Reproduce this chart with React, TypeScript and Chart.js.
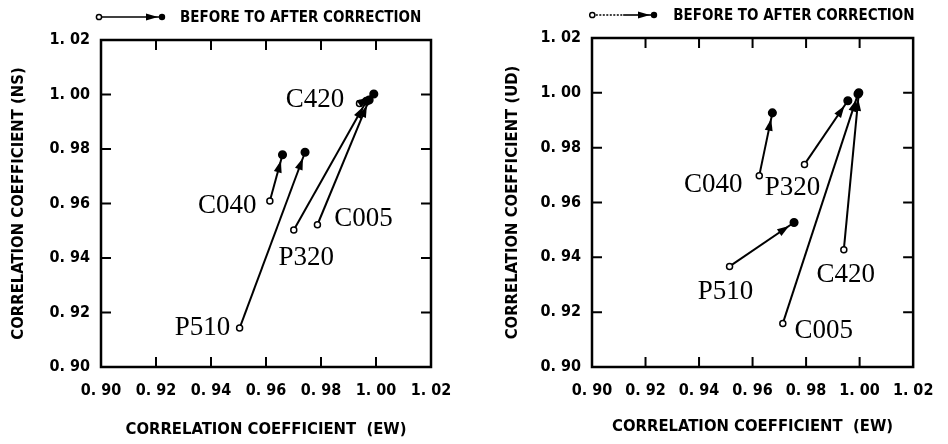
import React, { useEffect, useRef } from "react";
import { Chart, registerables } from "chart.js";

Chart.register(...registerables);

// ---------- data ----------
const STATIONS = ["C040", "P510", "P320", "C005", "C420"];
const AXIS_TICKS = [0.9, 0.92, 0.94, 0.96, 0.98, 1.0, 1.02];

// Left panel: EW vs NS
const NS_BEFORE_EW = [0.9614, 0.9504, 0.9701, 0.9787, 0.994];
const NS_BEFORE_NS = [0.9609, 0.9143, 0.9503, 0.9522, 0.9967];
const NS_AFTER_EW = [0.966, 0.9742, 0.9965, 0.9975, 0.9992];
const NS_AFTER_NS = [0.9779, 0.9788, 0.9975, 0.998, 1.0002];

// Right panel: EW vs UD
const UD_BEFORE_EW = [0.9625, 0.9514, 0.9794, 0.9713, 0.9941];
const UD_BEFORE_UD = [0.9698, 0.9367, 0.9739, 0.9159, 0.9428];
const UD_AFTER_EW = [0.9674, 0.9755, 0.9956, 0.9994, 0.9997];
const UD_AFTER_UD = [0.9927, 0.9527, 0.9971, 0.9996, 1.0];

const LEGEND_TEXT = "BEFORE TO AFTER CORRECTION";
const X_TITLE = "CORRELATION COEFFICIENT  (EW)";
const Y_TITLE_NS = "CORRELATION COEFFICIENT (NS)";
const Y_TITLE_UD = "CORRELATION COEFFICIENT (UD)";

// ---------- layout / style ----------
const W = 474;
const H = 444;
const COND = "'DejaVu Sans Condensed', 'DejaVu Sans Mono', monospace";
const SERIF = "'Liberation Serif', 'Times New Roman', serif";

type Geo = {
  area: { left: number; right: number; top: number; bottom: number };
  yTickPad: number;
  yTitlePad: number;
  xTickPad: number;
  xTitlePad: number;
  legend: { x0: number; x1: number; textX: number; y: number; dotted: boolean };
  labelOffsets: number[][];
};

const LEFT_GEO: Geo = {
  area: { left: 101, right: 431, top: 40, bottom: 367 },
  yTickPad: 11,
  yTitlePad: 8.4,
  xTickPad: 14.6,
  xTitlePad: 4.4,
  legend: { x0: 99, x1: 162, textX: 180, y: 17, dotted: false },
  labelOffsets: [
    [-42.5, 3.3],
    [-37, -2],
    [12.5, 25.7],
    [46, -7.4],
    [-44.5, -5],
  ],
};

const RIGHT_GEO: Geo = {
  area: { left: 118, right: 446, top: 38, bottom: 367 },
  yTickPad: 11,
  yTitlePad: 28.7,
  xTickPad: 14.6,
  xTitlePad: 7.7,
  legend: { x0: 118.3, x1: 180, textX: 199.3, y: 15, dotted: true },
  labelOffsets: [
    [-46, 7],
    [-4, 24],
    [-12, 22],
    [41, 6],
    [2, 23],
  ],
};

function fmtTick(v: number) {
  return Number(v).toFixed(2).replace(".", ". ");
}

function drawArrowHead(ctx: CanvasRenderingContext2D, x0: number, y0: number, x1: number, y1: number, back: number, len: number, half: number) {
  const dx = x1 - x0;
  const dy = y1 - y0;
  const L = Math.hypot(dx, dy) || 1;
  const ux = dx / L;
  const uy = dy / L;
  const tx = x1 - ux * back;
  const ty = y1 - uy * back;
  const bx = tx - ux * len;
  const by = ty - uy * len;
  ctx.beginPath();
  ctx.moveTo(tx, ty);
  ctx.lineTo(bx - uy * half, by + ux * half);
  ctx.lineTo(bx + uy * half, by - ux * half);
  ctx.closePath();
  ctx.fill();
}

function Panel(props: {
  geo: Geo;
  yTitle: string;
  bx: number[];
  by: number[];
  ax: number[];
  ay: number[];
  left: number;
}) {
  const ref = useRef<HTMLCanvasElement | null>(null);
  useEffect(() => {
    const canvas = ref.current;
    if (!canvas) return;
    const g = props.geo;

    const datasets = STATIONS.map((name, i) => ({
      label: name,
      data: [
        { x: props.bx[i], y: props.by[i] },
        { x: props.ax[i], y: props.ay[i] },
      ],
      borderColor: "#000",
      borderWidth: 2,
      showLine: true,
      fill: false,
      pointRadius: [3, 3.8],
      pointBackgroundColor: ["#fff", "#000"],
      pointBorderColor: "#000",
      pointBorderWidth: 1.5,
      pointHoverRadius: 0,
    }));

    const decor = {
      id: "decor",
      afterDatasetsDraw(chart: any) {
        const ctx = chart.ctx as CanvasRenderingContext2D;
        const ca = chart.chartArea;
        const xs = chart.scales.x;
        const ys = chart.scales.y;
        ctx.save();
        // frame
        ctx.strokeStyle = "#000";
        ctx.lineWidth = 2.5;
        ctx.strokeRect(ca.left, ca.top, ca.right - ca.left, ca.bottom - ca.top);
        // inward ticks
        ctx.lineWidth = 2;
        const tl = 10;
        AXIS_TICKS.slice(1, -1).forEach((v) => {
          const px = xs.getPixelForValue(v);
          const py = ys.getPixelForValue(v);
          ctx.beginPath();
          ctx.moveTo(px, ca.bottom);
          ctx.lineTo(px, ca.bottom - tl);
          ctx.moveTo(px, ca.top);
          ctx.lineTo(px, ca.top + tl);
          ctx.moveTo(ca.left, py);
          ctx.lineTo(ca.left + tl, py);
          ctx.moveTo(ca.right, py);
          ctx.lineTo(ca.right - tl, py);
          ctx.stroke();
        });
        // arrowheads
        ctx.fillStyle = "#000";
        chart.data.datasets.forEach((_: any, i: number) => {
          const meta = chart.getDatasetMeta(i);
          const p0 = meta.data[0];
          const p1 = meta.data[1];
          drawArrowHead(ctx, p0.x, p0.y, p1.x, p1.y, 6, 12, 4);
        });
        // station labels
        ctx.font = `27px ${SERIF}`;
        ctx.textAlign = "center";
        ctx.textBaseline = "alphabetic";
        chart.data.datasets.forEach((ds: any, i: number) => {
          const meta = chart.getDatasetMeta(i);
          const p0 = meta.data[0];
          const off = g.labelOffsets[i];
          ctx.fillText(ds.label, p0.x + off[0], p0.y + off[1] + 9);
        });
        // legend
        const lg = g.legend;
        ctx.lineWidth = 1.6;
        if (lg.dotted) {
          ctx.setLineDash([2, 1.5]);
          ctx.beginPath();
          ctx.moveTo(lg.x0, lg.y);
          ctx.lineTo((lg.x0 + lg.x1) / 2, lg.y);
          ctx.stroke();
          ctx.setLineDash([]);
          ctx.beginPath();
          ctx.moveTo((lg.x0 + lg.x1) / 2, lg.y);
          ctx.lineTo(lg.x1, lg.y);
          ctx.stroke();
        } else {
          ctx.beginPath();
          ctx.moveTo(lg.x0, lg.y);
          ctx.lineTo(lg.x1, lg.y);
          ctx.stroke();
        }
        drawArrowHead(ctx, lg.x0, lg.y, lg.x1, lg.y, 4, 12, 3.5);
        ctx.beginPath();
        ctx.arc(lg.x0, lg.y, 2.6, 0, Math.PI * 2);
        ctx.fillStyle = "#fff";
        ctx.fill();
        ctx.lineWidth = 1.5;
        ctx.stroke();
        ctx.beginPath();
        ctx.arc(lg.x1, lg.y, 3.2, 0, Math.PI * 2);
        ctx.fillStyle = "#000";
        ctx.fill();
        ctx.font = `bold 15px ${COND}`;
        ctx.textAlign = "left";
        ctx.textBaseline = "middle";
        ctx.fillText(LEGEND_TEXT, lg.textX, lg.y + 1);
        ctx.restore();
      },
    };

    const tickFont = { family: COND, size: 16, weight: "bold" as const };
    const titleFont = { family: COND, size: 16.5, weight: "bold" as const };

    const chart = new Chart(canvas, {
      type: "scatter",
      data: { datasets: datasets as any },
      options: {
        animation: false,
        responsive: false,
        maintainAspectRatio: false,
        events: [],
        layout: {
          padding: { left: 0, top: g.area.top, right: W - g.area.right, bottom: 0 },
        },
        plugins: {
          legend: { display: false },
          tooltip: { enabled: false },
        },
        scales: {
          x: {
            type: "linear",
            min: 0.9,
            max: 1.02,
            afterBuildTicks: (s: any) => {
              s.ticks = AXIS_TICKS.map((v) => ({ value: v }));
            },
            afterFit: (s: any) => {
              s.height = H - g.area.bottom;
            },
            grid: { display: false, drawTicks: false },
            border: { display: false },
            ticks: {
              color: "#000",
              font: tickFont,
              padding: g.xTickPad,
              maxRotation: 0,
              autoSkip: false,
              callback: (v: any) => fmtTick(v),
            },
            title: {
              display: true,
              text: X_TITLE,
              color: "#000",
              font: titleFont,
              padding: { top: 0, bottom: g.xTitlePad },
            },
          },
          y: {
            type: "linear",
            min: 0.9,
            max: 1.02,
            afterBuildTicks: (s: any) => {
              s.ticks = AXIS_TICKS.map((v) => ({ value: v }));
            },
            afterFit: (s: any) => {
              s.width = g.area.left;
            },
            grid: { display: false, drawTicks: false },
            border: { display: false },
            ticks: {
              color: "#000",
              font: tickFont,
              padding: g.yTickPad,
              autoSkip: false,
              callback: (v: any) => fmtTick(v),
            },
            title: {
              display: true,
              text: props.yTitle,
              color: "#000",
              font: titleFont,
              padding: { top: g.yTitlePad, bottom: 0 },
            },
          },
        },
      },
      plugins: [decor],
    });
    return () => chart.destroy();
  }, []);

  return (
    <canvas
      ref={ref}
      width={W}
      height={H}
      style={{ position: "absolute", left: props.left, top: 0, width: W, height: H }}
    />
  );
}

export default function App() {
  return (
    <div
      style={{
        position: "fixed",
        left: 0,
        top: 0,
        width: 948,
        height: 444,
        background: "#fff",
        overflow: "hidden",
      }}
    >
      <Panel geo={LEFT_GEO} yTitle={Y_TITLE_NS} bx={NS_BEFORE_EW} by={NS_BEFORE_NS} ax={NS_AFTER_EW} ay={NS_AFTER_NS} left={0} />
      <Panel geo={RIGHT_GEO} yTitle={Y_TITLE_UD} bx={UD_BEFORE_EW} by={UD_BEFORE_UD} ax={UD_AFTER_EW} ay={UD_AFTER_UD} left={474} />
    </div>
  );
}
